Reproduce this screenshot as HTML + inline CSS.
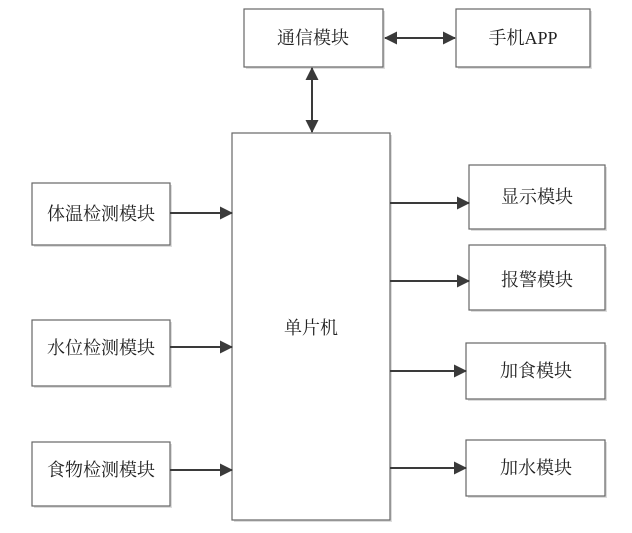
<!DOCTYPE html>
<html><head><meta charset="utf-8"><style>
body{margin:0;background:#fff;width:632px;height:528px;overflow:hidden}
svg text{font-family:"Liberation Serif","Noto Serif CJK SC","Noto Sans CJK SC",serif;font-size:18px;fill:#222;text-anchor:middle;dominant-baseline:central}
rect{fill:#fff;stroke:#666;stroke-width:1.2}
.sh{fill:#ddd;stroke:none}
line{stroke:#3a3a3a;stroke-width:2}
</style></head><body>
<svg width="632" height="528" xmlns="http://www.w3.org/2000/svg">
<defs><marker id="a" markerWidth="13" markerHeight="13" refX="12" refY="6.5" orient="auto" markerUnits="userSpaceOnUse"><path d="M0,0 L13,6.5 L0,13 z" fill="#3a3a3a"/></marker>
<marker id="b" markerWidth="13" markerHeight="13" refX="1" refY="6.5" orient="auto" markerUnits="userSpaceOnUse"><path d="M13,0 L0,6.5 L13,13 z" fill="#3a3a3a"/></marker></defs>
<g>
<rect class="sh" x="246" y="11" width="139" height="58"/><rect x="244" y="9" width="139" height="58"/><text x="313" y="38">通信模块</text>
<rect class="sh" x="458" y="11" width="134" height="58"/><rect x="456" y="9" width="134" height="58"/><text x="523" y="38">手机APP</text>
<rect class="sh" x="234" y="135" width="158" height="387"/><rect x="232" y="133" width="158" height="387"/><text x="311" y="328">单片机</text>
<rect class="sh" x="34" y="185" width="138" height="62"/><rect x="32" y="183" width="138" height="62"/><text x="101" y="214">体温检测模块</text>
<rect class="sh" x="34" y="322" width="138" height="66"/><rect x="32" y="320" width="138" height="66"/><text x="101" y="348">水位检测模块</text>
<rect class="sh" x="34" y="444" width="138" height="64"/><rect x="32" y="442" width="138" height="64"/><text x="101" y="470">食物检测模块</text>
<rect class="sh" x="471" y="167" width="136" height="64"/><rect x="469" y="165" width="136" height="64"/><text x="537" y="197">显示模块</text>
<rect class="sh" x="471" y="247" width="136" height="65"/><rect x="469" y="245" width="136" height="65"/><text x="537" y="280">报警模块</text>
<rect class="sh" x="468" y="345" width="139" height="56"/><rect x="466" y="343" width="139" height="56"/><text x="536" y="371">加食模块</text>
<rect class="sh" x="468" y="442" width="139" height="56"/><rect x="466" y="440" width="139" height="56"/><text x="536" y="468">加水模块</text>
</g>
<line x1="385" y1="38" x2="455" y2="38" marker-start="url(#b)" marker-end="url(#a)"/>
<line x1="312" y1="68" x2="312" y2="132" marker-start="url(#b)" marker-end="url(#a)"/>
<line x1="170" y1="213" x2="232" y2="213" marker-end="url(#a)"/>
<line x1="170" y1="347" x2="232" y2="347" marker-end="url(#a)"/>
<line x1="170" y1="470" x2="232" y2="470" marker-end="url(#a)"/>
<line x1="390" y1="203" x2="469" y2="203" marker-end="url(#a)"/>
<line x1="390" y1="281" x2="469" y2="281" marker-end="url(#a)"/>
<line x1="390" y1="371" x2="466" y2="371" marker-end="url(#a)"/>
<line x1="390" y1="468" x2="466" y2="468" marker-end="url(#a)"/>
</svg>
</body></html>
